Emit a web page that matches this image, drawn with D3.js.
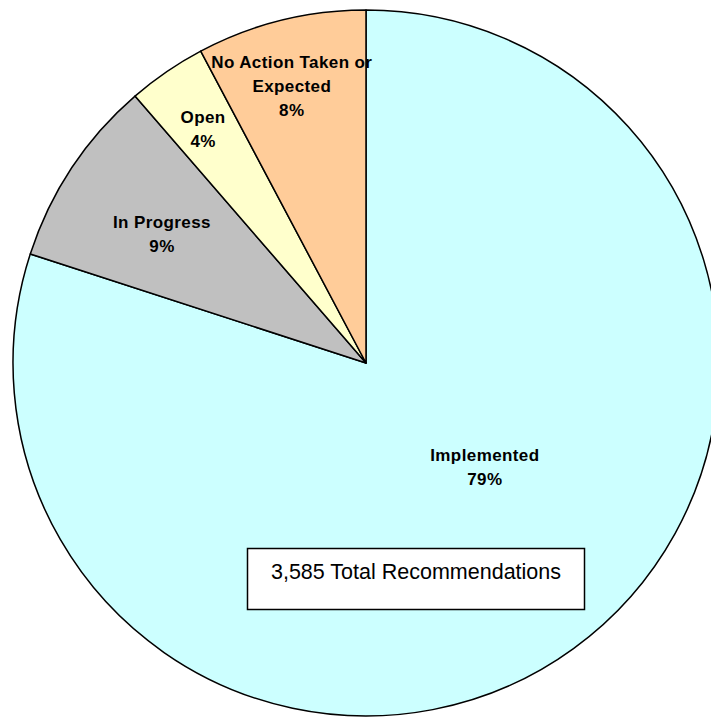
<!DOCTYPE html>
<html>
<head>
<meta charset="utf-8">
<script src="https://cdn.jsdelivr.net/npm/d3@7"></script>
<style>
  body { margin: 0; background: #fff; }
  svg { display: block; }
</style>
</head>
<body>
<div id="Area"></div>
<script>
// data (counts add up to the 3,585 total)
var categories = ["Implemented", "In Progress", "Open", "No Action Taken or Expected"];
var counts = [2868, 310, 129, 278];
var pctLabels = ["79%", "9%", "4%", "8%"];
var totalLabel = "3,585 Total Recommendations";

var colors = ["#ccffff", "#c0c0c0", "#ffffcc", "#ffcc99"];
// label lines and where they sit (radius, angle from 12 o'clock in degrees)
var labelLines = [["Implemented"], ["In Progress"], ["Open"], ["No Action Taken or", "Expected"]];
var labelAt = [[158, 131.2], [241.4, 302.3], [284.8, 325.1], [286.7, 345.0]];

var width = 711, height = 717;
var cx = 366, cy = 363, radius = 353;

var svg = d3.select("#Area").append("svg")
  .attr("width", width)
  .attr("height", height);

var g = svg.append("g")
  .attr("transform", "translate(" + cx + "," + cy + ")");

var data = categories.map(function (c, i) { return { name: c, value: counts[i], i: i }; });

var pie = d3.pie().sort(null).value(function (d) { return d.value; });
var arc = d3.arc().innerRadius(0).outerRadius(radius);

g.selectAll("path.slice")
  .data(pie(data))
  .enter()
  .append("path")
  .attr("class", "slice")
  .attr("d", arc)
  .attr("fill", function (d) { return colors[d.data.i]; })
  .attr("stroke", "#000")
  .attr("stroke-width", 1.5)
  .attr("stroke-linejoin", "round");

// labels
var lineH = 24;
data.forEach(function (d) {
  var lines = labelLines[d.i].concat([pctLabels[d.i]]);
  var a = labelAt[d.i][1] * Math.PI / 180, r = labelAt[d.i][0];
  var x = r * Math.sin(a), y = -r * Math.cos(a);
  var y0 = y - (lines.length - 1) * lineH / 2 + 6;
  var t = g.append("text")
    .attr("text-anchor", "middle")
    .attr("font-family", "Liberation Sans, Arial, sans-serif")
    .attr("font-weight", "bold")
    .attr("font-size", 17)
    .attr("letter-spacing", 0.4)
    .attr("fill", "#000");
  lines.forEach(function (l, k) {
    t.append("tspan").attr("x", x).attr("y", y0 + k * lineH).text(l);
  });
});

// total box
svg.append("rect")
  .attr("x", 247.5).attr("y", 548.5)
  .attr("width", 337).attr("height", 61)
  .attr("fill", "#fff")
  .attr("stroke", "#000")
  .attr("stroke-width", 1.5);

svg.append("text")
  .attr("x", 416).attr("y", 578.5)
  .attr("text-anchor", "middle")
  .attr("font-family", "Liberation Sans, Arial, sans-serif")
  .attr("font-size", 21.5)
  .attr("fill", "#000")
  .text(totalLabel);
</script>
</body>
</html>
